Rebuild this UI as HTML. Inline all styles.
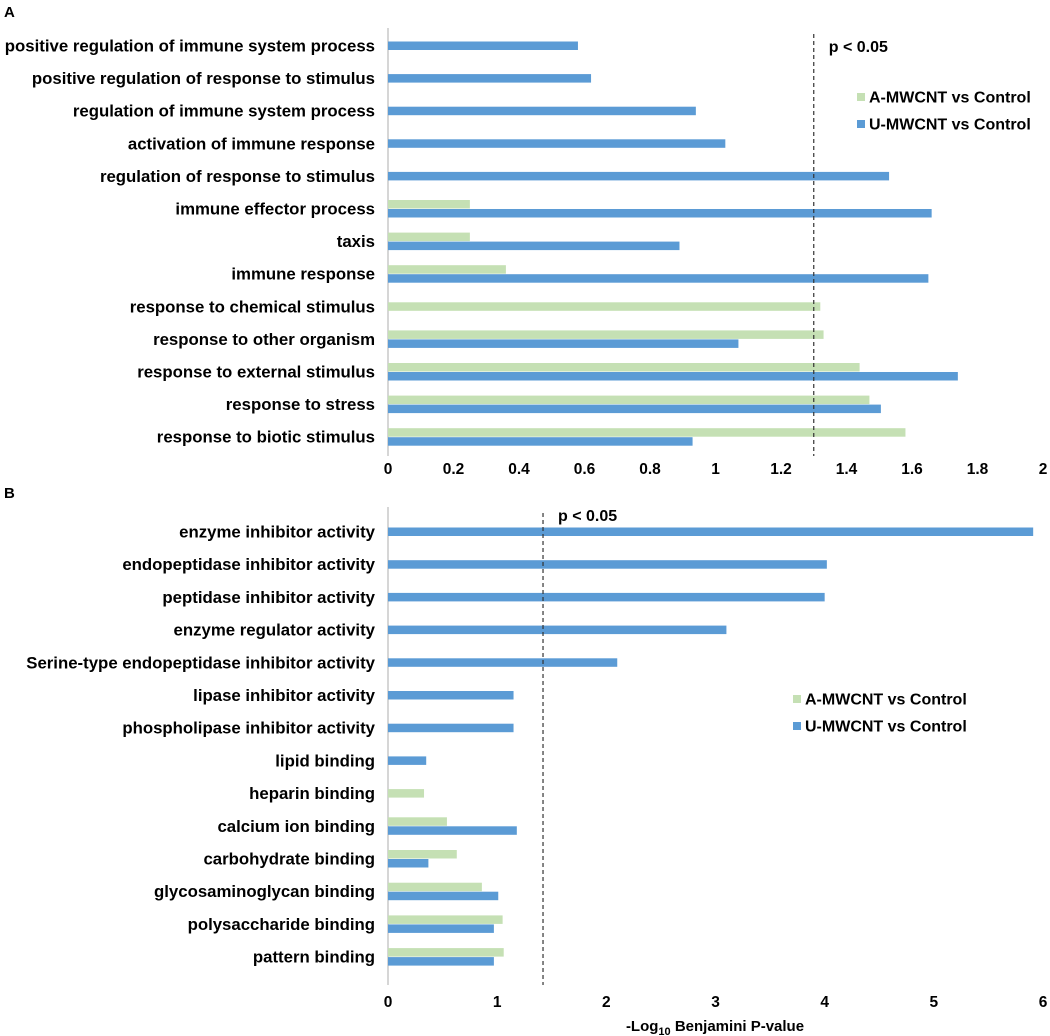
<!DOCTYPE html>
<html><head><meta charset="utf-8"><style>
body{margin:0;background:#fff}
svg{display:block;font-family:"Liberation Sans",Arial,sans-serif;font-weight:bold}
</style></head><body>
<svg id="chart" width="1050" height="1036">
<text x="4" y="17" font-size="15">A</text>
<text x="4" y="498" font-size="15">B</text>
</svg>
<script>
const catsA=["positive regulation of immune system process","positive regulation of response to stimulus","regulation of immune system process","activation of immune response","regulation of response to stimulus","immune effector process","taxis","immune response","response to chemical stimulus","response to other organism","response to external stimulus","response to stress","response to biotic stimulus"];
const greenA=[null,null,null,null,null,0.25,0.25,0.36,1.32,1.33,1.44,1.47,1.58];
const blueA=[0.58,0.62,0.94,1.03,1.53,1.66,0.89,1.65,null,1.07,1.74,1.505,0.93];
const ticksA=[0,0.2,0.4,0.6,0.8,1,1.2,1.4,1.6,1.8,2];
const pA=1.30;
const catsB=["enzyme inhibitor activity","endopeptidase inhibitor activity","peptidase inhibitor activity","enzyme regulator activity","Serine-type endopeptidase inhibitor activity","lipase inhibitor activity","phospholipase inhibitor activity","lipid binding","heparin binding","calcium ion binding","carbohydrate binding","glycosaminoglycan binding","polysaccharide binding","pattern binding"];
const greenB=[null,null,null,null,null,null,null,null,0.33,0.54,0.63,0.86,1.05,1.06];
const blueB=[5.91,4.02,4.0,3.1,2.1,1.15,1.15,0.35,null,1.18,0.37,1.01,0.97,0.97];
const ticksB=[0,1,2,3,4,5,6];
const pB=1.42;

const svg=document.getElementById('chart');
const NS='http://www.w3.org/2000/svg';
function mk(t,a,txt){const e=document.createElementNS(NS,t);for(const k in a)e.setAttribute(k,a[k]);if(txt!=null)e.textContent=txt;svg.appendChild(e);return e;}
function panel(p){
  const x=v=>p.x0+v*(p.x1-p.x0)/p.max;
  const y=i=>p.y0+i*p.step;
  let ax=mk('line',{x1:p.x0,x2:p.x0,y1:p.top,y2:p.bot,stroke:'#c8c8c8','stroke-width':1.5});
  
  
  p.ticks.forEach(t=>{
    const e=mk('text',{x:x(t),y:p.tickY,'font-size':15.5,'text-anchor':'middle'},String(t));
    
    
  });
  p.cats.forEach((c,i)=>{
    const cy=y(i);
    const e=mk('text',{x:375,y:cy+5.5,'font-size':16.8,'text-anchor':'end'},c);
    
    
    const g=p.green[i],b=p.blue[i];
    const both=g!=null&&b!=null;
    if(g!=null){
      const r=mk('rect',{x:p.x0,y:both?cy-9:cy-4.5,width:x(g)-p.x0,height:8.5,fill:'#c5e0b4'});
      
      
    }
    if(b!=null){
      const r=mk('rect',{x:p.x0,y:both?cy:cy-4.5,width:x(b)-p.x0,height:8.5,fill:'#5b9bd5'});
      
      
    }
  });
  const d=mk('line',{x1:x(p.pv),x2:x(p.pv),y1:p.top+6,y2:p.bot,stroke:'#333','stroke-width':1.2,'stroke-dasharray':'4,3'});
  
  
  const pt=mk('text',{x:x(p.pv)+15,y:p.pY,'font-size':16},'p < 0.05');
  
  
  [['A-MWCNT vs Control','#c5e0b4'],['U-MWCNT vs Control','#5b9bd5']].forEach((l,i)=>{
    const r=mk('rect',{x:p.lx,y:p.ly+i*27-4,width:8,height:8,fill:l[1]});
    
    
    const t=mk('text',{x:p.lx+12,y:p.ly+i*27+5.5,'font-size':16},l[0]);
    
    
  });
}
panel({id:'panel-a',cats:catsA,green:greenA,blue:blueA,ticks:ticksA,pv:pA,max:2,x0:388,x1:1043,y0:46,step:32.6,top:28,bot:456,tickY:474,pY:52,lx:857,ly:97});
panel({id:'panel-b',cats:catsB,green:greenB,blue:blueB,ticks:ticksB,pv:pB,max:6,x0:388,x1:1043,y0:532,step:32.7,top:507,bot:985,tickY:1007,pY:521,lx:793,ly:699});
const at=mk('text',{x:715,y:1031,'font-size':15,'text-anchor':'middle'},'');


at.innerHTML='-Log<tspan font-size="11" dy="4">10</tspan><tspan dy="-4"> Benjamini P-value</tspan>';
</script>
</body></html>
